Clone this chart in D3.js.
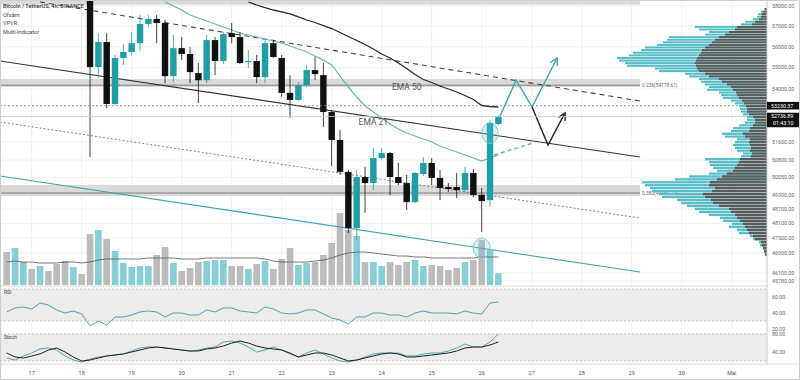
<!DOCTYPE html>
<html>
<head>
<meta charset="utf-8">
<script src="https://cdn.jsdelivr.net/npm/d3@7"></script>
<style>
  body { margin: 0; background: #fff; }
  svg { display: block; }
  text { font-family: Roboto, "Noto Sans", sans-serif; }
</style>
</head>
<body>
<svg id="chart" width="800" height="381"></svg>
<script>
// ---- data (4h candles, BTC/USDT) ----
const firstBar = Date.UTC(2021, 3, 16, 12);   // first 4h bar on screen
const candleStart = 10;                         // bars before this are above the pane

const candleOpen  = [60000,55030,56225,53310,55460,55745,56170,57105,57355,57155,54600,55930,55650,54745,54410,56320,55315,56660,56465,55265,55315,54555,56170,55460,53820,53495,54180,54885,54650,52940,51685,50285,47915,50065,49805,50885,51105,50065,49805,48995,50195,50675,50025,49635,49635,49505,50240,49295,49080,52400];
const candleHigh  = [60500,56660,56660,55600,56125,56710,57550,57550,57550,57300,56565,56465,55980,55220,56565,56465,56710,57155,56710,55845,55600,56320,56320,55600,54650,54320,55125,55505,55220,53035,52135,50370,50370,50500,51330,51330,51150,50675,50155,50285,50930,50885,50370,49805,50240,50500,50415,49595,52575,52780];
const candleLow   = [50930,54505,53125,53265,55125,55600,55795,56955,56170,54270,54320,55360,54270,53355,54270,54650,55170,56170,55170,54980,54270,54270,55460,53635,52665,53450,54085,54410,52260,50535,50155,47710,47420,48540,49505,50800,49295,49720,48670,48955,50110,49720,49080,49420,49165,49420,49210,47750,48795,52350];
const candleClose = [55030,56225,53310,55460,55745,56170,57105,57355,57155,54600,55930,55650,54790,54410,56320,55315,56610,56465,55220,55315,54555,56170,55505,53820,53495,54180,54885,54695,52940,51685,50285,47915,50065,49805,50885,51105,50065,49805,48995,50240,50675,50025,49595,49550,49505,50240,49295,49040,52440,52736.89];

const volume = [16500,18500,11500,8000,9500,7000,10500,12000,9000,5500,25500,27500,23000,17000,11000,9000,9500,9500,15000,19000,11000,7000,8500,11500,12000,12500,12500,9500,9500,8000,10500,12000,8000,13000,18500,10000,11000,11500,15000,21000,36000,27500,24500,11500,11500,9500,11500,10000,11500,12500,9500,10000,9500,7500,8500,11500,12500,22500,17500,6000];
const volUp  = [0,1,1,0,1,0,0,0,1,0,0,1,0,1,1,1,1,1,0,0,1,0,0,0,1,1,1,0,0,1,0,1,0,0,0,1,1,0,0,0,0,0,1,0,1,1,0,0,0,1,1,0,0,0,0,1,0,0,1,1];
const volMA  = [11500,12000,11500,11500,11000,11000,11000,11500,11500,11000,11500,12500,13000,13000,13000,13000,13000,13500,13500,13500,13500,13000,13000,13000,13500,13500,13500,13500,13500,13500,13500,13000,12000,11500,11500,11500,11500,12000,12500,13500,15000,16000,16500,16500,16000,15500,15000,14500,14500,14000,14000,13500,13500,13500,13500,13500,13500,14000,14000,14000];

const rsi    = [41.3,46.3,47.5,45,52.5,50,43.8,40,42.5,38.8,23.8,30,25,35,35,37.5,41.3,42.5,41.3,35,40,40,37.5,37.5,43.8,41.3,46.3,46.3,42.5,41.3,40,47.5,45,40,38.8,40,43.8,43.8,38.8,33.8,31.3,26.3,35,35,40,40,37.5,37.5,35,40,42.5,40,40,40,38.8,42.5,40,38.8,52.5,53.8];
const stochK = [26.7,22.2,31.1,37.8,46.7,48.9,44.4,31.1,22.2,17.8,24.4,28.9,31.1,33.3,35.6,42.2,48.9,51.1,51.1,48.9,46.7,44.4,42.2,44.4,48.9,51.1,62.2,64.4,60,51.1,40,44.4,51.1,44.4,35.6,28.9,37.8,44.4,35.6,26.7,20,17.8,22.2,28.9,35.6,37.8,37.8,37.8,31.1,31.1,35.6,37.8,37.8,42.2,48.9,57.8,51.1,51.1,62.2,80];
const stochD = [37.8,28.9,26.7,31.1,35.6,44.4,48.9,40,28.9,20,22.2,26.7,31.1,33.3,35.6,40,44.4,48.9,51.1,48.9,46.7,44.4,42.2,42.2,46.7,48.9,53.3,60,64.4,60,53.3,48.9,46.7,44.4,37.8,28.9,33.3,37.8,37.8,33.3,26.7,20,22.2,26.7,31.1,35.6,37.8,35.6,28.9,28.9,31.1,33.3,35.6,37.8,42.2,48.9,51.1,51.1,55.6,62.2];

const ema21Start = 19;
const ema21 = [58195,57995,57796,57548,57399,57251,57104,56957,56810,56664,56566,56469,56372,56275,56178,56034,55889,55745,55554,55364,55126,54607,54093,53630,53216,52942,52670,52400,52175,51996,51861,51728,51594,51417,51285,51153,51021,50889,50758,50889,51021];
const ema50Start = 29;
const ema50 = [58195,58045,57920,57796,57697,57598,57450,57301,57178,57030,56883,56688,56493,56300,56106,55889,55650,55459,55221,54960,54677,54443,54303,54140,54000,53861,53699,53515,53239,53193,53170];

// visible range volume profile (bins of 125 USDT from the top)
const vpTop = 57900, vpStep = 125;
const vpTotal = [3,6,9,10,14,22,26,72,68,58,62,98,100,104,110,122,126,134,138,150,148,142,140,112,108,82,78,68,66,62,58,60,48,46,44,36,32,28,27,26,24,20,20,22,28,34,36,45,42,30,32,34,32,30,24,26,62,58,57,54,50,58,78,92,125,122,117,115,108,105,90,86,80,72,68,58,47,44,35,38,30,28,17,14,8,7,4,3,2];
const vpDown  = [2,4,5,6,8,12,15,30,32,38,42,48,52,55,58,62,65,66,68,70,71,72,71,70,68,62,58,48,45,40,36,34,31,30,28,25,23,21,20,20,18,14,12,12,14,17,18,24,22,17,18,17,16,17,15,16,27,28,30,32,34,40,45,50,57,58,52,55,64,62,56,54,48,38,36,32,30,27,24,22,20,18,14,12,6,5,4,3,2];

const priceTicks = [58000,57000,56000,55000,54000,51600,50800,50050,49300,48700,48100,47500,46900,46100,45780];
const rsiTicks = [60, 40, 20];
const stochTicks = [80, 40];
const legendLines = ["Bitcoin / TetherUS, 4h, BINANCE", "Ofsäm", "VPVR", "Multi-Indicator"];

// drawings (time, price)
const upperLine  = [["2021-04-16T08:45Z", 55316], ["2021-04-29T04:00Z", 50933]];
const dashedLine = [["2021-04-17T04:00Z", 58195], ["2021-04-29T04:00Z", 53446]];
const dottedLine = [["2021-04-16T08:45Z", 52490], ["2021-04-29T04:00Z", 48330]];
const cyanLine   = [["2021-04-16T08:45Z", 50108], ["2021-04-29T04:00Z", 46137]];
const fibBands = [
  { top: 58250, bottom: 58060, level: null },
  { top: 54467, bottom: 54093, level: 54178.61, label: "0.236(54178.61)" },
  { top: 49721, bottom: 49250, level: 49380.72, label: "0.382(49380.72)" }
];
const fibEnd = "2021-04-29T04:00Z";
const cyanPath  = [["2021-04-26T08:00Z", 52580], ["2021-04-26T16:30Z", 54420], ["2021-04-27T00:10Z", 53170], ["2021-04-27T12:10Z", 55460]];
const blackPath = [["2021-04-27T00:10Z", 53170], ["2021-04-27T07:50Z", 51460], ["2021-04-27T16:00Z", 52900]];
const dashPath  = [["2021-04-26T06:00Z", 51020], ["2021-04-27T00:40Z", 51550]];
const priceLines = [{ price: 53230.37, dotted: true }, { price: 52736.89, dotted: false }];

// ---- layout ----
const W = 800, H = 381;
const axisX = 767;
const mainTop = 1, mainBottom = 286;
const svg = d3.select("#chart");

const x = d3.scaleUtc()
  .domain([new Date("2021-04-17T00:00Z"), new Date("2021-05-01T00:00Z")])
  .range([31.7, 731.7]);
const y = d3.scaleLog().domain([58295, 45625]).range([0, 285]);
const yVol = d3.scaleLinear().domain([0, 36000]).range([285, 213]);
const yRsi = d3.scaleLinear().domain([30, 70]).range([321, 289]);
const yStoch = d3.scaleLinear().domain([20, 80]).range([361, 334]);
const vpX = d3.scaleLinear().domain([0, 150]).range([0, 150]);

const barTime = i => new Date(firstBar + i * 4 * 3600e3);
const pt = d => [x(new Date(d[0])), y(d[1])];

const UP = "#1f9ea6", DOWN = "#111", CY_LINE = "#62b7bd";

svg.append("rect").attr("width", W).attr("height", H).attr("fill", "#fff");

svg.append("defs").append("clipPath").attr("id", "mainClip")
  .append("rect").attr("x", 0).attr("y", mainTop).attr("width", axisX).attr("height", mainBottom - mainTop);

// grid
const days = x.ticks(d3.utcDay.every(1));
svg.append("g").selectAll("line").data(days).join("line")
  .attr("x1", d => x(d)).attr("x2", d => x(d))
  .attr("y1", mainTop).attr("y2", 364)
  .attr("stroke", "#f1f1f1");
svg.append("g").selectAll("line").data(priceTicks).join("line")
  .attr("x1", 0).attr("x2", axisX)
  .attr("y1", d => y(d)).attr("y2", d => y(d))
  .attr("stroke", "#f1f1f1");

const main = svg.append("g").attr("clip-path", "url(#mainClip)");

// fib bands
fibBands.forEach(b => {
  main.append("rect")
    .attr("x", 0).attr("width", x(new Date(fibEnd)))
    .attr("y", y(b.top)).attr("height", y(b.bottom) - y(b.top))
    .attr("fill", "#d3d3d3").attr("opacity", 0.85);
  if (b.level) {
    main.append("line")
      .attr("x1", 0).attr("x2", x(new Date(fibEnd)))
      .attr("y1", y(b.level)).attr("y2", y(b.level))
      .attr("stroke", "#666").attr("stroke-width", 0.8);
    main.append("text")
      .attr("x", x(new Date(fibEnd)) + 2).attr("y", y(b.level) + 1.5)
      .attr("font-size", 4.8).attr("fill", "#666")
      .text(b.label);
  }
});

// volume
const bw = 6.6;
main.append("g").selectAll("rect").data(volume).join("rect")
  .attr("x", (d, i) => x(barTime(i)) - bw / 2)
  .attr("width", bw)
  .attr("y", d => yVol(d))
  .attr("height", d => yVol(0) - yVol(d))
  .attr("fill", (d, i) => volUp[i] ? "#86cfd6" : "#bcbcbc");

main.append("path").datum(volMA)
  .attr("fill", "none").attr("stroke", "#555").attr("stroke-width", 0.8)
  .attr("d", d3.line().x((d, i) => x(barTime(i))).y(d => yVol(d)));

// trendlines
const seg = d3.line().x(d => pt(d)[0]).y(d => pt(d)[1]);
main.append("path").datum(upperLine).attr("d", seg).attr("stroke", "#333").attr("stroke-width", 1.1).attr("fill", "none");
main.append("path").datum(dashedLine).attr("d", seg).attr("stroke", "#444").attr("stroke-width", 1.1)
  .attr("stroke-dasharray", "5,4").attr("fill", "none");
main.append("path").datum(dottedLine).attr("d", seg).attr("stroke", "#666").attr("stroke-width", 0.8)
  .attr("stroke-dasharray", "2,2").attr("fill", "none");
main.append("path").datum(cyanLine).attr("d", seg).attr("stroke", "#3aa5ad").attr("stroke-width", 1.1).attr("fill", "none");

// price lines
priceLines.forEach(p => {
  svg.append("line").attr("x1", 0).attr("x2", axisX)
    .attr("y1", y(p.price)).attr("y2", y(p.price))
    .attr("stroke", p.dotted ? "#888" : "#c8c8c8").attr("stroke-width", 0.8)
    .attr("stroke-dasharray", p.dotted ? "2,2" : null);
});

// EMAs
main.append("path").datum(ema21)
  .attr("fill", "none").attr("stroke", CY_LINE).attr("stroke-width", 1.2)
  .attr("d", d3.line().x((d, i) => x(barTime(i + ema21Start))).y(d => y(d)));
main.append("path").datum(ema50)
  .attr("fill", "none").attr("stroke", "#2b2b2b").attr("stroke-width", 1.3)
  .attr("d", d3.line().x((d, i) => x(barTime(i + ema50Start))).y(d => y(d)));

// candles
const candles = candleOpen.map((o, k) => ({
  t: barTime(k + candleStart), o, h: candleHigh[k], l: candleLow[k], c: candleClose[k]
}));
const cg = main.append("g").selectAll("g").data(candles).join("g");
cg.append("line")
  .attr("x1", d => x(d.t)).attr("x2", d => x(d.t))
  .attr("y1", d => y(d.h)).attr("y2", d => y(d.l))
  .attr("stroke", d => d.c >= d.o ? UP : DOWN).attr("stroke-width", 0.8);
cg.append("rect")
  .attr("x", d => x(d.t) - 3.2).attr("width", 6.4)
  .attr("y", d => y(Math.max(d.o, d.c)))
  .attr("height", d => Math.max(1.2, Math.abs(y(d.o) - y(d.c))))
  .attr("fill", d => d.c >= d.o ? UP : DOWN);

// EMA labels
svg.append("text").attr("x", x(barTime(48))).attr("y", y(53950)).attr("font-size", 8.5)
  .attr("fill", "#555").attr("text-anchor", "middle").text("EMA 50");
svg.append("text").attr("x", x(barTime(44))).attr("y", y(52350)).attr("font-size", 8.5)
  .attr("fill", "#555").attr("text-anchor", "middle").text("EMA 21");

// projections
function arrowPath(pts, color, dash) {
  const p = pts.map(pt);
  main.append("path").attr("d", d3.line()(p)).attr("fill", "none")
    .attr("stroke", color).attr("stroke-width", 1.4).attr("stroke-dasharray", dash || null);
  if (dash) return;
  const [a, b] = p.slice(-2);
  const ang = Math.atan2(b[1] - a[1], b[0] - a[0]);
  const head = [-0.5, 0.5].map(s => [b[0] - 8 * Math.cos(ang + s), b[1] - 8 * Math.sin(ang + s)]);
  main.append("path").attr("d", d3.line()([head[0], b, head[1]])).attr("fill", "none")
    .attr("stroke", color).attr("stroke-width", 1.4);
}
arrowPath(cyanPath, "#3aa9b0");
arrowPath(blackPath, "#222");
arrowPath(dashPath, "#5bb4ba", "4,3");

// highlight ellipses
main.append("ellipse").attr("cx", x(barTime(58))).attr("cy", y(51995)).attr("rx", 8).attr("ry", 10.5)
  .attr("fill", "rgba(110,195,202,0.25)").attr("stroke", "#7cc7cd").attr("stroke-width", 0.9);
main.append("ellipse").attr("cx", x(barTime(57))).attr("cy", yVol(18500)).attr("rx", 8.5).attr("ry", 10)
  .attr("fill", "rgba(110,195,202,0.25)").attr("stroke", "#7cc7cd").attr("stroke-width", 0.9);

// volume profile (right side)
const vp = svg.append("g").attr("clip-path", "url(#mainClip)");
vpTotal.forEach((tot, k) => {
  const hi = vpTop - k * vpStep, lo = hi - vpStep;
  const y0 = y(hi) + 0.3, h = y(lo) - y(hi) - 0.6;
  vp.append("rect").attr("x", axisX - vpX(tot)).attr("width", vpX(tot))
    .attr("y", y0).attr("height", h).attr("fill", "#58bdc6");
  vp.append("rect").attr("x", axisX - vpX(vpDown[k])).attr("width", vpX(vpDown[k]))
    .attr("y", y0).attr("height", h).attr("fill", "#5b5b5b");
});

// lower panes
svg.append("line").attr("x1", 0).attr("x2", axisX).attr("y1", mainBottom).attr("y2", mainBottom).attr("stroke", "#ddd");
svg.append("rect").attr("x", 0).attr("width", axisX).attr("y", yRsi(70)).attr("height", yRsi(30) - yRsi(70)).attr("fill", "#ececec");
[70, 30].forEach(v => svg.append("line").attr("x1", 0).attr("x2", axisX).attr("y1", yRsi(v)).attr("y2", yRsi(v))
  .attr("stroke", "#aaa").attr("stroke-width", 0.7).attr("stroke-dasharray", "2,2"));
svg.append("rect").attr("x", 0).attr("width", axisX).attr("y", yStoch(80)).attr("height", yStoch(20) - yStoch(80)).attr("fill", "#ececec");
[80, 20].forEach(v => svg.append("line").attr("x1", 0).attr("x2", axisX).attr("y1", yStoch(v)).attr("y2", yStoch(v))
  .attr("stroke", "#aaa").attr("stroke-width", 0.7).attr("stroke-dasharray", "2,2"));

svg.append("path").datum(rsi).attr("fill", "none").attr("stroke", "#4fa9b1").attr("stroke-width", 1)
  .attr("d", d3.line().x((d, i) => x(barTime(i))).y(d => yRsi(d)));
svg.append("path").datum(stochK).attr("fill", "none").attr("stroke", "#4fa9b1").attr("stroke-width", 1)
  .attr("d", d3.line().x((d, i) => x(barTime(i))).y(d => yStoch(d)));
svg.append("path").datum(stochD).attr("fill", "none").attr("stroke", "#222").attr("stroke-width", 1)
  .attr("d", d3.line().x((d, i) => x(barTime(i))).y(d => yStoch(d)));

svg.append("text").attr("x", 4).attr("y", 294).attr("font-size", 5).attr("fill", "#444").text("RSI");
svg.append("text").attr("x", 4).attr("y", 339).attr("font-size", 5).attr("fill", "#444").text("Stoch");

// axes
svg.append("line").attr("x1", axisX).attr("x2", axisX).attr("y1", 0).attr("y2", 364).attr("stroke", "#ccc");
svg.append("line").attr("x1", 0).attr("x2", W).attr("y1", 364).attr("y2", 364).attr("stroke", "#ddd");

const fmt = d3.format(".2f");
svg.append("g").selectAll("text").data(priceTicks).join("text")
  .attr("x", 772).attr("y", d => y(d) + 1.8).attr("font-size", 5.3).attr("fill", "#666").text(d => fmt(d));
svg.append("g").selectAll("text").data(rsiTicks).join("text")
  .attr("x", 772).attr("y", d => yRsi(d) + 1.8).attr("font-size", 5.3).attr("fill", "#666").text(d => fmt(d));
svg.append("g").selectAll("text").data(stochTicks).join("text")
  .attr("x", 772).attr("y", d => yStoch(d) + 1.8).attr("font-size", 5.3).attr("fill", "#666").text(d => fmt(d));

// price labels
const lastClose = candleClose[candleClose.length - 1];
svg.append("rect").attr("x", axisX).attr("y", y(53230.37) - 3.8).attr("width", 33).attr("height", 7.6).attr("fill", "#111");
svg.append("text").attr("x", 771).attr("y", y(53230.37) + 1.9).attr("font-size", 5.3).attr("fill", "#fff").text(fmt(53230.37));
svg.append("rect").attr("x", axisX).attr("y", y(lastClose) - 3.8).attr("width", 33).attr("height", 14.5).attr("fill", "#111");
svg.append("text").attr("x", 771).attr("y", y(lastClose) + 1.9).attr("font-size", 5.3).attr("fill", "#fff").text(fmt(lastClose));
svg.append("text").attr("x", 773).attr("y", y(lastClose) + 8.6).attr("font-size", 5.3).attr("fill", "#fff").text("01:43:10");

svg.append("g").selectAll("text").data(days).join("text")
  .attr("x", d => x(d)).attr("y", 375).attr("text-anchor", "middle")
  .attr("font-size", 5.5).attr("fill", "#555")
  .text(d => d.getUTCMonth() === 4 ? "Mai" : d.getUTCDate());

// legend
svg.append("g").selectAll("text").data(legendLines).join("text")
  .attr("x", 3).attr("y", (d, i) => 8 + i * 8.7)
  .attr("font-size", 5.6).attr("fill", "#444")
  .attr("font-weight", (d, i) => i === 0 ? 600 : 400)
  .text(d => d);

// frame
svg.append("rect").attr("x", 0.5).attr("y", 0.5).attr("width", W - 1).attr("height", H - 2)
  .attr("fill", "none").attr("stroke", "#cfcfcf");
</script>
</body>
</html>
